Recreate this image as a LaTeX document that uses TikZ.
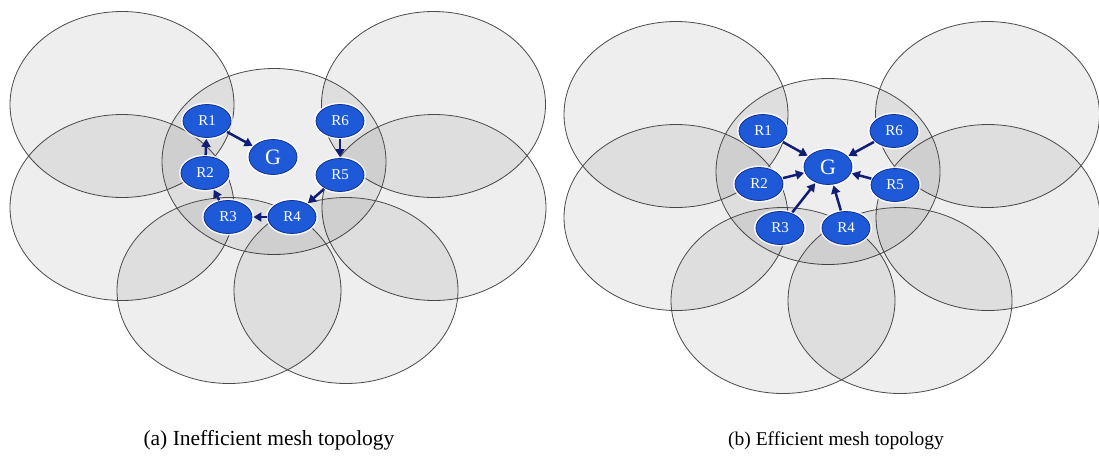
\documentclass[tikz,border=0pt]{standalone}
\usepackage{fontspec}
\setmainfont{Liberation Serif}
\usetikzlibrary{shapes.geometric,arrows.meta}
\definecolor{nodeblue}{RGB}{30,90,215}
\definecolor{nodeedge}{RGB}{18,48,150}
\definecolor{arrowblue}{RGB}{16,30,120}
\definecolor{rangeline}{RGB}{75,75,75}
\tikzset{
  coverage/.style={draw=rangeline, line width=0.8pt, fill=black, fill opacity=0.065},
  router/.style={ellipse, draw=nodeedge, line width=0.8pt, fill=nodeblue, text=white,
    minimum width=48pt, minimum height=33pt, inner sep=0pt,
    font=\fontsize{15}{15}\selectfont,
    preaction={draw=white, line width=4pt, draw opacity=0.8}},
  gateway/.style={router, minimum width=48pt, minimum height=35pt,
    font=\fontsize{22}{22}\selectfont},
  link/.style={draw=arrowblue, line width=2.5pt,
    -{Triangle[length=8pt,width=9pt]}, shorten >=1pt, shorten <=1pt},
  caption/.style={anchor=base}
}
\begin{document}
\begin{tikzpicture}[x=1pt,y=-1pt]
\useasboundingbox (0,0) rectangle (1099,455);
\fill[white] (0,0) rectangle (1099,455);

% radio ranges of the mesh routers, panel (a)
\foreach \cx/\cy in {122/104.5, 433.5/104.5, 122/207.5, 434/207.5, 274/161.5, 229/290.5, 346/290.5}
  \path[coverage] (\cx,\cy) ellipse [x radius=112pt, y radius=93pt];

% radio ranges of the mesh routers, panel (b)
\foreach \cx/\cy in {676/114.5, 987.5/114.5, 676/217.5, 988/217.5, 828/171.5, 783/300.5, 900/300.5}
  \path[coverage] (\cx,\cy) ellipse [x radius=112pt, y radius=93pt];

% panel (a): routers forward hop by hop
\node[gateway] (aG) at (273,157) {G};
\node[router] (aR1) at (207,121) {R1};
\node[router] (aR2) at (205,173) {R2};
\node[router] (aR3) at (228,217) {R3};
\node[router] (aR4) at (292,217) {R4};
\node[router] (aR5) at (340,175) {R5};
\node[router] (aR6) at (340,121) {R6};

\draw[link] (aR1) -- (aG);
\draw[link] (aR6) -- (aR5);
\draw[link] (aR5) -- (aR4);
\draw[link] (aR4) -- (aR3);
\draw[link] (aR3) -- (aR2);
\draw[link] (aR2) -- (aR1);

% panel (b): every router reaches the gateway directly
\node[gateway] (bG) at (828,167) {G};
\node[router] (bR1) at (763,131) {R1};
\node[router] (bR2) at (759,184) {R2};
\node[router] (bR3) at (780,228) {R3};
\node[router] (bR4) at (846,228) {R4};
\node[router] (bR5) at (895,185) {R5};
\node[router] (bR6) at (894,131) {R6};

\foreach \r in {1,...,6}
  \draw[link] (bR\r) -- (bG);

% captions
\node[caption, font=\fontsize{21.5}{21.5}\selectfont] (capa) at (269,445) {(a) Inefficient mesh topology};
\node[caption, font=\fontsize{19.5}{19.5}\selectfont] (capb) at (836,445) {(b) Efficient mesh topology};
\end{tikzpicture}
\end{document}
